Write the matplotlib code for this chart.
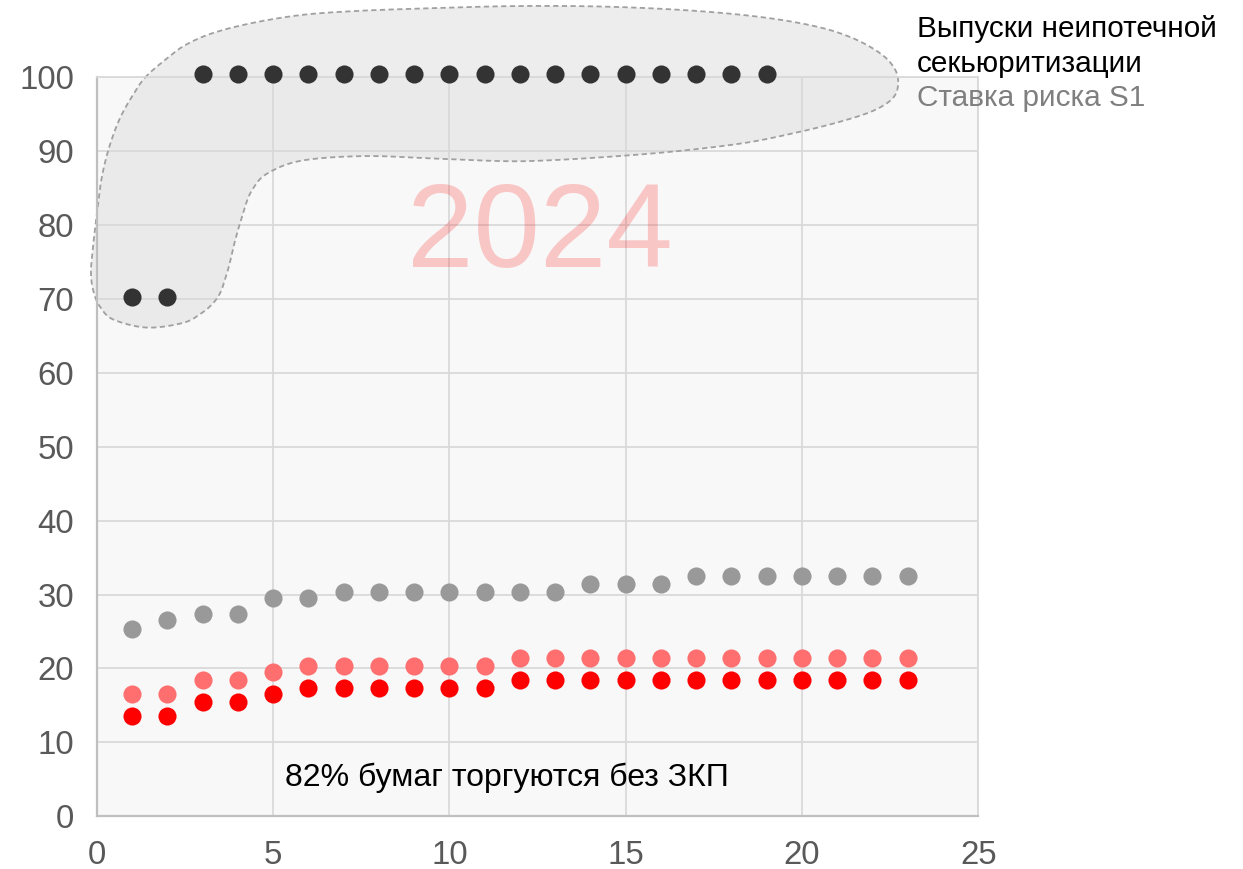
import matplotlib
matplotlib.use("Agg")
import matplotlib.pyplot as plt
import numpy as np
from matplotlib.patches import PathPatch
from matplotlib.path import Path

plt.rcParams['font.family'] = ['Liberation Sans', 'DejaVu Sans']

# --- data ---
x_all = list(range(1, 24))
x_dark = list(range(1, 20))
dark = [70.3, 70.3] + [100.4] * 17          # Выпуски неипотечной секьюритизации
gray = [25.4, 26.5, 27.3, 27.3, 29.5, 29.5, 30.3, 30.3, 30.3, 30.3, 30.3, 30.3,
        30.3, 31.4, 31.4, 31.4, 32.5, 32.5, 32.5, 32.5, 32.5, 32.5, 32.5]
light_red = [16.5, 16.5, 18.4, 18.4, 19.5, 20.3, 20.3, 20.3, 20.3, 20.3, 20.3,
             21.4, 21.4, 21.4, 21.4, 21.4, 21.4, 21.4, 21.4, 21.4, 21.4, 21.4, 21.4]
red = [13.55, 13.55, 15.4, 15.4, 16.5, 17.3, 17.3, 17.3, 17.3, 17.3, 17.3,
       18.4, 18.4, 18.4, 18.4, 18.4, 18.4, 18.4, 18.4, 18.4, 18.4, 18.4, 18.4]

x_ticks = [0, 5, 10, 15, 20, 25]
y_ticks = [0, 10, 20, 30, 40, 50, 60, 70, 80, 90, 100]

legend_lines = ["Выпуски неипотечной", "секьюритизации", "Ставка риска S1"]
note = "82% бумаг торгуются без ЗКП"
year = "2024"

# outline of the dashed highlight around the dark series (data units)
blob = [(1.36, 99.9), (1.93, 102.3), (2.5, 104.3), (3.26, 105.9), (4.4, 107.3),
        (5.82, 108.4), (7.24, 108.9), (9.45, 109.3), (12.0, 109.6), (14.56, 109.5),
        (17.11, 108.9), (19.01, 108.0), (20.43, 106.8), (21.37, 105.4), (22.22, 103.2),
        (22.62, 101.2), (22.73, 99.3), (22.62, 97.4), (22.33, 96.2), (21.85, 95.1),
        (20.89, 93.7), (19.95, 92.6), (18.53, 91.2), (17.11, 90.3), (15.61, 89.6),
        (13.14, 88.8), (11.8, 88.6), (9.93, 88.9), (7.55, 89.3), (5.82, 88.7),
        (4.85, 87.0), (4.4, 84.7), (4.11, 81.0), (3.92, 77.9), (3.69, 73.5),
        (3.41, 70.1), (2.98, 68.1), (2.41, 66.7), (1.45, 66.1), (0.51, 67.1),
        (0.09, 68.9), (-0.11, 71.2), (-0.17, 73.5), (-0.14, 75.7), (0.0, 81.6),
        (0.16, 87.0), (0.4, 91.3), (0.68, 94.7), (1.0, 97.4)]


def closed_spline(pts, n=16):
    # periodic centripetal catmull-rom through the outline points
    p = np.array(pts)
    m = len(p)
    out = []
    for i in range(m):
        p0, p1, p2, p3 = p[i - 1], p[i], p[(i + 1) % m], p[(i + 2) % m]
        t0 = 0.0
        t1 = t0 + np.linalg.norm(p1 - p0) ** 0.5
        t2 = t1 + np.linalg.norm(p2 - p1) ** 0.5
        t3 = t2 + np.linalg.norm(p3 - p2) ** 0.5
        t = np.linspace(t1, t2, n, endpoint=False)[:, None]
        a1 = (t1 - t) / (t1 - t0) * p0 + (t - t0) / (t1 - t0) * p1
        a2 = (t2 - t) / (t2 - t1) * p1 + (t - t1) / (t2 - t1) * p2
        a3 = (t3 - t) / (t3 - t2) * p2 + (t - t2) / (t3 - t2) * p3
        b1 = (t2 - t) / (t2 - t0) * a1 + (t - t0) / (t2 - t0) * a2
        b2 = (t3 - t) / (t3 - t1) * a2 + (t - t1) / (t3 - t1) * a3
        out.append((t2 - t) / (t2 - t1) * b1 + (t - t1) / (t2 - t1) * b2)
    out = np.vstack(out)
    return np.vstack([out, out[:1]])


fig = plt.figure(figsize=(12.43, 8.69), dpi=100)
ax = fig.add_axes([0.078, 0.0606, 0.709, 0.8508])
ax.set_facecolor('#f8f8f8')

ax.set_xlim(0, 25)
ax.set_ylim(0, 100)
ax.set_xticks(x_ticks)
ax.set_yticks(y_ticks)
ax.grid(True, color='#d9d9d9', lw=1.3)
ax.set_axisbelow(True)
ax.tick_params(length=0, labelsize=23.8, labelcolor='#595959')
ax.tick_params(axis='x', pad=17)
ax.tick_params(axis='y', pad=16.5)
for s in ['left', 'bottom']:
    ax.spines[s].set_color('#bfbfbf')
    ax.spines[s].set_linewidth(1.6)
for s in ['top', 'right']:
    ax.spines[s].set_color('#d9d9d9')
    ax.spines[s].set_linewidth(1.3)

curve = closed_spline(blob)
ax.add_patch(PathPatch(Path(curve), facecolor='#d9d9d9', alpha=0.45, edgecolor='none',
                       clip_on=False, zorder=2))
ax.add_patch(PathPatch(Path(curve), facecolor='none', edgecolor='#a0a0a0', lw=1.3,
                       linestyle=(0, (2.9, 1.9)), clip_on=False, zorder=2))

ax.text(12.57, 74.3, year, fontsize=86, color='red', alpha=0.2, ha='center',
        va='baseline', zorder=3)

ms = 170
ax.scatter(x_all, gray, s=ms, color='#999999', lw=0, zorder=4, clip_on=False)
ax.scatter(x_all, light_red, s=ms, color='#ff6f6f', lw=0, zorder=4, clip_on=False)
ax.scatter(x_all, red, s=ms, color='#ff0000', lw=0, zorder=4, clip_on=False)
ax.scatter(x_dark, dark, s=ms, color='#333333', lw=0, zorder=5, clip_on=False)

ax.text(5.33, 4.1, note, fontsize=23, color='black', ha='left', va='baseline', zorder=6)

fig.text(0.7377, 1 - 37 / 869, legend_lines[0], fontsize=21.4, color='black', va='baseline')
fig.text(0.7377, 1 - 72 / 869, legend_lines[1], fontsize=21.4, color='black', va='baseline')
fig.text(0.7377, 1 - 106 / 869, legend_lines[2], fontsize=21.4, color='#7f7f7f', va='baseline')

fig.savefig('out.png', dpi=100)
